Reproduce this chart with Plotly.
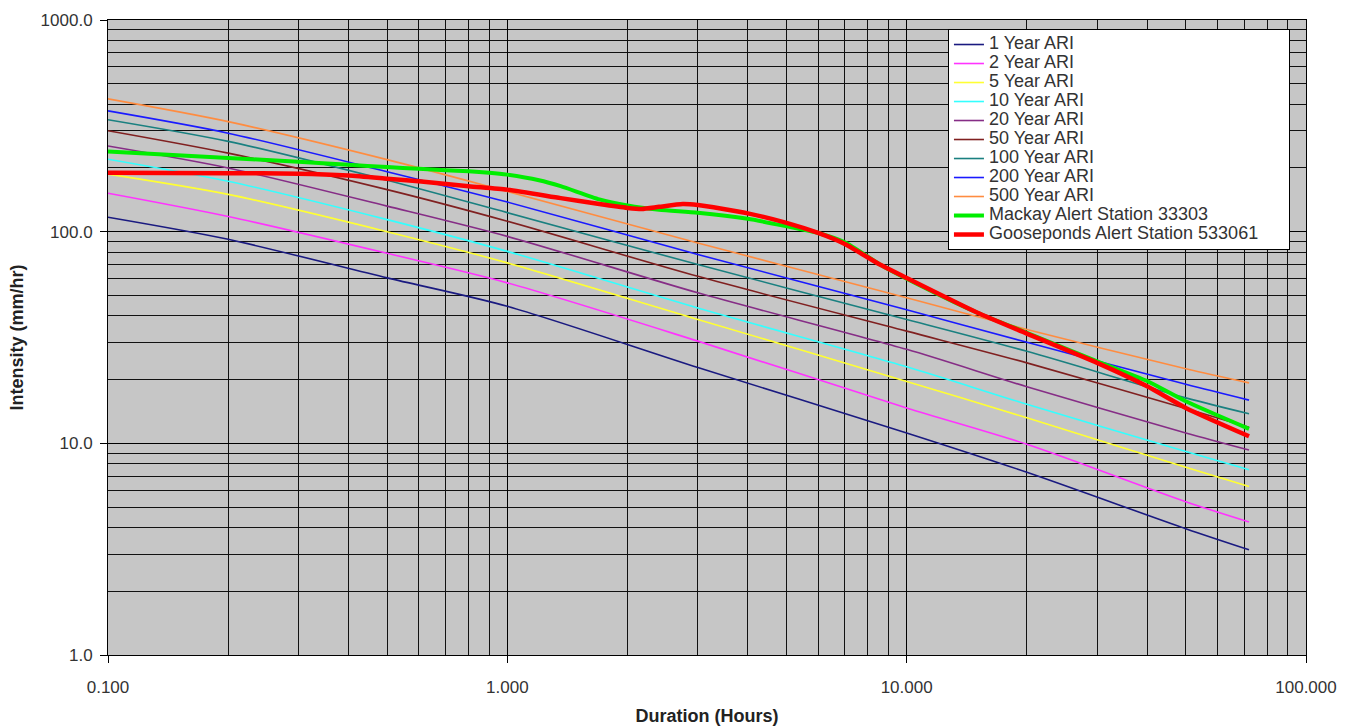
import plotly.graph_objects as go

# Durations (hours) at which the ARI curves were read
dur_ari = [0.1, 0.2, 0.5, 1, 3, 10, 20, 50, 72]
ari_1 = [117, 92, 60.5, 44.4, 22.8, 11.2, 7.3, 3.95, 3.14]
ari_2 = [152, 118, 79, 57.3, 30.4, 14.7, 9.9, 5.3, 4.25]
ari_5 = [187, 150, 100, 71.2, 38.5, 19.6, 13.2, 7.7, 6.25]
ari_10 = [220, 173, 114, 80.7, 43.6, 23.0, 15.3, 9.15, 7.5]
ari_20 = [254, 200, 132, 95, 51.4, 27.8, 18.5, 11.2, 9.3]
ari_50 = [300, 235, 158, 112, 61.5, 33.9, 24.0, 14.6, 11.9]
ari_100 = [338, 267, 175, 123, 69.9, 38.5, 27.2, 16.4, 13.8]
ari_200 = [372, 292, 192, 138, 78, 42.8, 30.0, 19.0, 16.0]
ari_500 = [424, 331, 219, 155, 88.5, 48.7, 34.5, 22.5, 19.3]

mackay_dur = [0.1, 0.2, 0.3, 0.4, 0.5, 0.6, 0.7, 0.8, 0.9, 1.0, 1.2, 1.36, 1.7, 2.0, 2.4,
              3, 4, 5, 6, 7, 8.57, 10, 15, 20, 30, 40, 50, 72]
mackay = [239, 223, 214, 207, 202, 198, 195, 193, 190, 186, 175, 164, 142, 133, 127,
          123, 115, 106, 98.6, 89, 70, 60, 41.5, 33.3, 24.4, 19.7, 15.8, 11.7]

goose_dur = [0.1, 0.2, 0.3, 0.4, 0.5, 0.6, 0.8, 1.0, 1.36, 1.7, 2.0, 2.17, 2.4, 2.75,
             3, 4, 5, 6, 7, 8.57, 10, 15, 20, 30, 40, 50, 72]
goose = [190, 189, 188, 184, 178, 173, 164, 158, 144, 135, 129.5, 128, 131, 135,
         133.5, 122, 110, 98.6, 87.5, 69.9, 60.4, 41.5, 33.0, 24.0, 18.6, 14.7, 10.8]

ari_names = ["1 Year ARI", "2 Year ARI", "5 Year ARI", "10 Year ARI", "20 Year ARI",
             "50 Year ARI", "100 Year ARI", "200 Year ARI", "500 Year ARI"]
ari_series = [ari_1, ari_2, ari_5, ari_10, ari_20, ari_50, ari_100, ari_200, ari_500]
ari_colors = ["#1a1a80", "#ff33ff", "#ffff33", "#33ffff", "#862d86",
              "#802020", "#1a8080", "#1a1aff", "#ff8c40"]

x_tickvals = [0.1, 1, 10, 100]
x_ticktext = ["0.100", "1.000", "10.000", "100.000"]
y_tickvals = [1, 10, 100, 1000]
y_ticktext = ["1.0", "10.0", "100.0", "1000.0"]


def lname(s, pad=0):
    return '<span style="font-size:18px">' + s + "\u00a0" * pad + '</span>'


fig = go.Figure()
for name, vals, col in zip(ari_names, ari_series, ari_colors):
    fig.add_trace(go.Scatter(x=dur_ari, y=vals, mode="lines", name=lname(name),
                             line=dict(color=col, width=1.6, shape="spline", smoothing=0.8)))
fig.add_trace(go.Scatter(x=mackay_dur, y=mackay, mode="lines", name=lname("Mackay Alert Station 33303"),
                         line=dict(color="#00ee00", width=4, shape="spline", smoothing=0.6)))
fig.add_trace(go.Scatter(x=goose_dur, y=goose, mode="lines", name=lname("Gooseponds Alert Station 533061", 5),
                         line=dict(color="#ff0000", width=4.5, shape="spline", smoothing=0.6)))

minor_x = [m * d for d in [0.1, 1, 10] for m in range(2, 10)]
minor_y = [m * d for d in [1, 10, 100] for m in range(2, 10)]

fig.update_layout(
    width=1355, height=726,
    margin=dict(l=108, r=49, t=20, b=71),
    paper_bgcolor="white",
    plot_bgcolor="#c6c6c6",
    font=dict(family="Liberation Sans, Arial, sans-serif", color="#333333", size=17),
    showlegend=True,
    legend=dict(x=0.9866, y=0.9858, xanchor="right", yanchor="top",
                bgcolor="white", bordercolor="black", borderwidth=1,
                font=dict(size=12, color="#333333", family="Liberation Sans, Arial, sans-serif"),
                tracegroupgap=0),
)
fig.update_xaxes(
    type="log", range=[-1, 2], automargin=False,
    tickmode="array", tickvals=x_tickvals, ticktext=x_ticktext,
    ticks="outside", ticklen=7, tickcolor="black",
    showgrid=True, gridcolor="black", gridwidth=1.3,
    minor=dict(tickmode="array", tickvals=minor_x, showgrid=True, gridcolor="#111111", gridwidth=1, ticks=""),
    showline=True, linecolor="black", linewidth=1, mirror=True,
    zeroline=False,
    tickfont=dict(size=17, color="#333333"),
    ticklabelstandoff=10,
    title=dict(text="<b>Duration (Hours)</b>", font=dict(size=18, color="#222222"), standoff=13),
)
fig.update_yaxes(
    type="log", range=[0, 3], automargin=False,
    tickmode="array", tickvals=y_tickvals, ticktext=y_ticktext,
    ticks="outside", ticklen=7, tickcolor="black",
    showgrid=True, gridcolor="black", gridwidth=1.3,
    minor=dict(tickmode="array", tickvals=minor_y, showgrid=True, gridcolor="#111111", gridwidth=1, ticks=""),
    showline=True, linecolor="black", linewidth=1, mirror=True,
    zeroline=False,
    tickfont=dict(size=17, color="#333333"),
    ticklabelstandoff=4,
    title=dict(text="<b>Intensity (mm/hr)</b>", font=dict(size=18, color="#222222"), standoff=12),
)

fig.write_html("out.html",
               config={"displayModeBar": False},
               post_script="document.body.style.margin='0';document.body.style.overflow='hidden';")
